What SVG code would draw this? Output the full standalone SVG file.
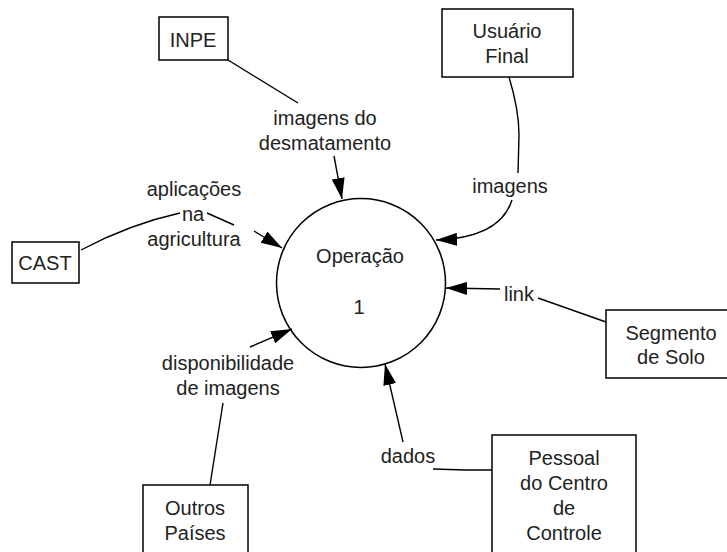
<svg xmlns="http://www.w3.org/2000/svg" width="727" height="552" viewBox="0 0 727 552">
<style>
.box{fill:#fff;stroke:#000;stroke-width:1.5}
.ln{fill:none;stroke:#000;stroke-width:1.4}
text{font-family:"Liberation Sans",Arial,sans-serif;font-size:20px;fill:#222;text-anchor:middle}
</style>
<defs>
<marker id="ah" markerWidth="21" markerHeight="13" refX="21" refY="6.5" orient="auto" markerUnits="userSpaceOnUse">
<path d="M0,0 L21,6.5 L0,13 z" fill="#000"/>
</marker>
</defs>
<rect width="727" height="552" fill="#fff"/>
<g id="connectors">
<path class="ln" d="M228,60 L298,103"/>
<path class="ln" d="M334,156 L342,199" marker-end="url(#ah)"/>
<text x="325" y="125">imagens do</text>
<text x="325" y="150">desmatamento</text>
<path class="ln" d="M509,77 Q519,110 519,135 L518,173"/>
<path class="ln" d="M512,200 Q500,238 436,240" marker-end="url(#ah)"/>
<text x="510" y="193">imagens</text>
<path class="ln" d="M81,250 Q130,224 180,213"/>
<path class="ln" d="M207,213 L234,225"/>
<path class="ln" d="M254,231 L282,248" marker-end="url(#ah)"/>
<text x="194" y="196">aplicações</text>
<text x="193" y="221">na</text>
<text x="194" y="246">agricultura</text>
<path class="ln" d="M606,322 L538,298"/>
<path class="ln" d="M500,289 L446,288" marker-end="url(#ah)"/>
<text x="519" y="301">link</text>
<path class="ln" d="M210,485 L223,403"/>
<path class="ln" d="M250,347 L292,329" marker-end="url(#ah)"/>
<text x="228" y="370">disponibilidade</text>
<text x="228" y="395">de imagens</text>
<path class="ln" d="M492,470 L465,470 L433,469"/>
<path class="ln" d="M403,442 L385,364" marker-end="url(#ah)"/>
<text x="408" y="463">dados</text>
</g>
<g id="operacao">
<circle cx="361" cy="283" r="84.5" fill="none" stroke="#000" stroke-width="1.5"/>
<text x="360" y="263">Operação</text>
<text x="359" y="314">1</text>
</g>
<g id="inpe">
<rect class="box" x="159" y="17" width="69" height="43"/>
<text x="193" y="47">INPE</text>
</g>
<g id="usuario">
<rect class="box" x="442" y="9" width="131" height="68"/>
<text x="507" y="38">Usuário</text>
<text x="507" y="63">Final</text>
</g>
<g id="cast">
<rect class="box" x="12" y="242" width="67" height="41"/>
<text x="45" y="270">CAST</text>
</g>
<g id="segmento">
<rect class="box" x="606" y="310" width="130" height="68"/>
<text x="671" y="340">Segmento</text>
<text x="671" y="364">de Solo</text>
</g>
<g id="outros">
<rect class="box" x="143" y="485" width="105" height="80"/>
<text x="195" y="515">Outros</text>
<text x="195" y="540">Países</text>
</g>
<g id="pessoal">
<rect class="box" x="492" y="435" width="144" height="130"/>
<text x="564" y="465">Pessoal</text>
<text x="564" y="490">do Centro</text>
<text x="564" y="515">de</text>
<text x="564" y="540">Controle</text>
</g>
</svg>
